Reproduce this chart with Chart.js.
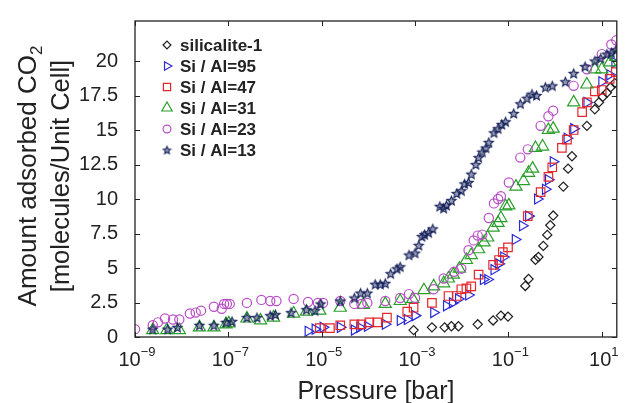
<!DOCTYPE html>
<html>
<head>
<meta charset="utf-8">
<script src="https://cdn.jsdelivr.net/npm/chart.js@4.4.1/dist/chart.umd.min.js"></script>
<style>
  html, body { margin: 0; padding: 0; background: #fff; }
</style>
</head>
<body>
<canvas id="isotermas" width="625" height="403"></canvas>
<script>
// CO2 isotherms, pressure in bar, loading in molecules per unit cell
const xTicks = [1e-9, 1e-7, 1e-5, 1e-3, 1e-1, 1e1];
const yTicks = [0, 2.5, 5, 7.5, 10, 12.5, 15, 17.5, 20];
const seriesNames = ['silicalite-1', 'Si / Al=95', 'Si / Al=47', 'Si / Al=31', 'Si / Al=23', 'Si / Al=13'];

const sil1P = [9.3e-4, 2.3e-3, 4.3e-3, 6.0e-3, 8.5e-3, 2.2e-2, 4.7e-2, 6.9e-2, 9.8e-2, 0.23, 0.27, 0.38, 0.44, 0.56, 0.68, 0.79, 0.91, 1.5, 1.9, 2.3, 4.8, 7.1, 8.7, 10.5, 12.9, 15.5, 19];
const sil1N = [0.5, 0.7, 0.7, 0.78, 0.78, 0.92, 1.2, 1.55, 1.48, 3.7, 4.2, 5.6, 5.8, 6.6, 7.4, 8.1, 8.8, 10.9, 12.2, 13.1, 15.3, 16.5, 17.0, 17.4, 17.7, 18.1, 18.4];

const si95P = [5.1e-6, 7.2e-6, 1.07e-5, 2.5e-5, 5.0e-5, 6.5e-5, 9.5e-5, 2.3e-4, 4.8e-4, 6.8e-4, 1.0e-3, 2.5e-3, 4.7e-3, 6.3e-3, 8.5e-3, 1.4e-2, 2.9e-2, 3.6e-2, 4.9e-2, 6.2e-2, 7.9e-2, 0.14, 0.20, 0.27, 0.42, 0.62, 0.72, 0.91, 1.8, 2.5, 4.8, 10, 14.8, 19];
const si95N = [0.42, 0.57, 0.7, 0.7, 0.5, 0.7, 0.78, 0.92, 1.2, 1.27, 1.55, 1.77, 2.26, 2.47, 2.76, 3.04, 4.17, 4.17, 4.88, 5.3, 5.8, 7.07, 8.06, 8.76, 10.0, 10.7, 11.4, 12.7, 14.4, 15.1, 17.0, 18.5, 19.0, 19.9];

const si47P = [9.1e-6, 1.5e-5, 2.5e-5, 5.0e-5, 7.1e-5, 1.05e-4, 1.55e-4, 2.5e-4, 6.8e-4, 9.3e-4, 2.3e-3, 5.2e-3, 7.8e-3, 9.8e-3, 1.26e-2, 1.6e-2, 2.3e-2, 4.7e-2, 6.3e-2, 7.6e-2, 9.8e-2, 0.26, 0.49, 0.72, 0.87, 1.4, 1.8, 2.5, 3.8, 4.8, 7.1, 10, 14.8, 20];
const si47N = [0.64, 0.64, 0.85, 0.92, 0.92, 1.06, 1.06, 1.41, 1.84, 2.12, 2.47, 2.97, 2.97, 3.46, 3.53, 3.67, 4.52, 5.23, 5.58, 6.15, 6.5, 8.76, 10.5, 11.6, 12.3, 13.7, 14.3, 15.0, 16.3, 17.0, 17.8, 17.9, 18.7, 19.2];

const si31P = [2.4e-9, 4.8e-9, 8.9e-9, 2.4e-8, 4.9e-8, 8.9e-8, 1.02e-7, 2.5e-7, 4.9e-7, 9.3e-7, 2.5e-6, 4.7e-6, 9.1e-6, 2.5e-5, 7.8e-5, 2.3e-4, 4.8e-4, 8.9e-4, 1.55e-3, 2.5e-3, 4.1e-3, 5.2e-3, 6.6e-3, 8.9e-3, 1.26e-2, 1.6e-2, 2.3e-2, 3.0e-2, 3.6e-2, 4.7e-2, 6.0e-2, 6.9e-2, 8.7e-2, 0.102, 0.145, 0.21, 0.27, 0.33, 0.38, 0.54, 0.72, 0.91, 2.5, 4.8, 7.1, 10, 14.8, 20];
const si31N = [0.5, 0.5, 0.5, 0.7, 0.7, 0.92, 0.99, 1.34, 1.2, 1.41, 1.70, 1.84, 1.91, 2.12, 2.33, 2.40, 2.61, 2.76, 3.39, 3.67, 3.89, 4.24, 4.52, 4.95, 5.58, 5.94, 6.36, 6.86, 7.21, 7.92, 8.27, 8.62, 9.47, 9.54, 10.9, 11.3, 11.9, 12.2, 13.7, 13.8, 15.0, 15.1, 17.0, 18.3, 19.4, 19.4, 19.9, 20.3];

const si23P = [1.0e-9, 2.4e-9, 3.1e-9, 4.4e-9, 6.5e-9, 8.9e-9, 1.5e-8, 2.0e-8, 2.6e-8, 4.9e-8, 7.2e-8, 8.1e-8, 9.3e-8, 1.07e-7, 2.5e-7, 5.1e-7, 7.9e-7, 1.07e-6, 2.5e-6, 5.1e-6, 8.3e-6, 1.07e-5, 2.5e-5, 5.0e-5, 7.1e-5, 9.5e-5, 2.3e-4, 4.8e-4, 7.4e-4, 1.0e-3, 2.5e-3, 4.1e-3, 6.9e-3, 9.8e-3, 1.4e-2, 1.8e-2, 2.2e-2, 2.75e-2, 3.8e-2, 4.9e-2, 6.0e-2, 6.9e-2, 0.102, 0.18, 0.26, 0.49, 0.72, 0.91, 2.5, 4.8, 10, 16, 20.5];
const si23N = [0.57, 0.85, 1.06, 1.34, 1.27, 1.27, 1.70, 1.77, 1.91, 2.19, 2.05, 2.40, 2.40, 2.40, 2.47, 2.69, 2.61, 2.61, 2.76, 2.54, 2.47, 2.47, 2.61, 2.40, 2.40, 2.47, 2.61, 2.83, 3.11, 2.83, 3.46, 4.24, 4.73, 4.95, 6.29, 7.0, 7.35, 7.42, 8.62, 9.68, 10.0, 10.2, 11.2, 13.0, 13.6, 15.3, 16.0, 16.4, 18.2, 19.4, 20.5, 21.2, 21.5];

const si13P = [2.4e-9, 5.0e-9, 8.1e-9, 2.4e-8, 4.9e-8, 8.9e-8, 1.2e-7, 2.5e-7, 4.1e-7, 7.9e-7, 1.02e-6, 2.2e-6, 4.7e-6, 7.2e-6, 9.5e-6, 2.5e-5, 5.0e-5, 6.8e-5, 9.5e-5, 1.4e-4, 1.8e-4, 2.3e-4, 3.0e-4, 4.1e-4, 4.8e-4, 7.4e-4, 1.0e-3, 1.2e-3, 1.4e-3, 1.6e-3, 1.95e-3, 2.4e-3, 3.4e-3, 4.1e-3, 4.7e-3, 6.0e-3, 7.8e-3, 9.8e-3, 1.15e-2, 1.4e-2, 1.6e-2, 2.0e-2, 2.3e-2, 2.75e-2, 3.3e-2, 3.8e-2, 4.9e-2, 6.0e-2, 7.2e-2, 8.7e-2, 0.13, 0.18, 0.25, 0.32, 0.40, 0.62, 0.87, 1.66, 2.5, 4.4, 7.1, 9.5, 12.9, 16, 20.5];
const si13N = [0.57, 0.57, 0.7, 0.85, 0.85, 1.06, 1.13, 1.41, 1.41, 1.55, 1.63, 1.77, 1.98, 1.91, 2.40, 2.61, 2.83, 3.18, 3.18, 3.82, 3.82, 3.89, 4.59, 4.95, 5.09, 5.94, 6.08, 6.64, 7.28, 7.42, 7.56, 7.84, 9.47, 9.33, 9.54, 9.89, 10.4, 10.6, 11.1, 11.2, 11.8, 12.5, 13.0, 13.4, 13.7, 14.1, 14.8, 15.1, 15.4, 15.6, 16.2, 16.9, 17.3, 17.6, 17.5, 18.1, 18.2, 18.5, 19.1, 19.6, 20.0, 20.2, 20.5, 20.6, 20.8];

const FONTE = "'Liberation Sans', Arial, Helvetica, sans-serif";
const TINTA = '#222';

// pentagrama (o Chart.js so tem a estrela de linhas cruzadas)
function estrela(cor, rExt) {
  const lado = Math.ceil(rExt * 2 + 3);
  const c = document.createElement('canvas');
  c.width = lado; c.height = lado;
  const g = c.getContext('2d');
  g.beginPath();
  for (let k = 0; k < 10; k++) {
    const r = k % 2 === 0 ? rExt : rExt * 0.45;
    const a = -Math.PI / 2 + k * Math.PI / 5;
    const px = lado / 2 + r * Math.cos(a), py = lado / 2 + 0.4 + r * Math.sin(a);
    if (k === 0) g.moveTo(px, py); else g.lineTo(px, py);
  }
  g.closePath();
  g.fillStyle = 'rgba(22,34,92,0.45)';
  g.fill();
  g.lineWidth = 1.1;
  g.strokeStyle = cor;
  g.stroke();
  return c;
}

function pontos(p, n) {
  return p.map((v, i) => ({ x: v, y: n[i] }));
}

const estilos = [
  { cor: '#1e1e1e', forma: 'rectRot', raio: 4.6, rot: 0 },
  { cor: '#2b2bd6', forma: 'triangle', raio: 5.8, rot: 90 },
  { cor: '#e5262a', forma: 'rect', raio: 6.0, rot: 0 },
  { cor: '#2a9e2a', forma: 'triangle', raio: 7.0, rot: 0 },
  { cor: '#b84cc6', forma: 'circle', raio: 4.6, rot: 0 },
  { cor: '#16225a', forma: estrela('#16225a', 4.8), raio: 5, rot: 0 }
];
const estrelaLegenda = estrela('#16225a', 4.0);

const valores = [
  pontos(sil1P, sil1N), pontos(si95P, si95N), pontos(si47P, si47N),
  pontos(si31P, si31N), pontos(si23P, si23N), pontos(si13P, si13N)
];

const datasets = seriesNames.map((nome, i) => ({
  label: nome,
  data: valores[i],
  order: seriesNames.length - 1 - i,
  pointStyle: estilos[i].forma,
  pointRadius: estilos[i].raio,
  pointRotation: estilos[i].rot,
  pointBorderWidth: 1.2,
  pointBorderColor: estilos[i].cor,
  pointBackgroundColor: 'rgba(0,0,0,0)',
  showLine: false
}));

const moldura = {
  id: 'moldura',
  afterDraw(chart) {
    const { ctx, chartArea: a, scales } = chart;
    ctx.save();
    ctx.strokeStyle = TINTA;
    ctx.lineWidth = 1.3;
    ctx.strokeRect(a.left, a.top, a.right - a.left, a.bottom - a.top);

    // marcas para dentro nos quatro lados
    ctx.lineWidth = 1;
    ctx.beginPath();
    scales.x.ticks.forEach(t => {
      const px = Math.round(scales.x.getPixelForValue(t.value)) + 0.5;
      ctx.moveTo(px, a.bottom); ctx.lineTo(px, a.bottom - 5);
      ctx.moveTo(px, a.top); ctx.lineTo(px, a.top + 5);
    });
    scales.y.ticks.forEach(t => {
      const py = Math.round(scales.y.getPixelForValue(t.value)) + 0.5;
      ctx.moveTo(a.left, py); ctx.lineTo(a.left + 5, py);
      ctx.moveTo(a.right, py); ctx.lineTo(a.right - 5, py);
    });
    ctx.stroke();

    // rotulos 10^n do eixo x
    ctx.fillStyle = TINTA;
    ctx.textBaseline = 'alphabetic';
    ctx.textAlign = 'left';
    scales.x.ticks.forEach(t => {
      const px = scales.x.getPixelForValue(t.value);
      const exp = String(Math.round(Math.log10(t.value))).replace('-', '\u2212');
      ctx.font = '20px ' + FONTE;
      const wb = ctx.measureText('10').width;
      ctx.font = '13px ' + FONTE;
      const we = ctx.measureText(exp).width;
      const x0 = px - (wb + we) / 2 + 2;
      ctx.font = '20px ' + FONTE;
      ctx.fillText('10', x0, 366);
      ctx.font = '13px ' + FONTE;
      ctx.fillText(exp, x0 + wb, 356);
    });

    // titulo do eixo y em duas linhas, com CO2 subscrito
    ctx.save();
    ctx.translate(36, 176);
    ctx.rotate(-Math.PI / 2);
    ctx.font = '26px ' + FONTE;
    const l1 = 'Amount adsorbed CO';
    const w1 = ctx.measureText(l1).width;
    ctx.font = '17px ' + FONTE;
    const ws = ctx.measureText('2').width;
    const s1 = -(w1 + ws) / 2;
    ctx.font = '26px ' + FONTE;
    ctx.fillText(l1, s1, 0);
    ctx.font = '17px ' + FONTE;
    ctx.fillText('2', s1 + w1, 6);
    ctx.font = '25.5px ' + FONTE;
    ctx.textAlign = 'center';
    ctx.fillText('[molecules/Unit Cell]', 0, 33);
    ctx.restore();

    // legenda dentro da area do grafico
    ctx.font = 'bold 17px ' + FONTE;
    ctx.textBaseline = 'middle';
    ctx.textAlign = 'left';
    seriesNames.forEach((nome, i) => {
      const y = 45 + i * 21;
      const e = estilos[i];
      const forma = i === 5 ? estrelaLegenda : e.forma;
      ctx.strokeStyle = e.cor;
      ctx.fillStyle = 'rgba(0,0,0,0)';
      ctx.lineWidth = 1.2;
      Chart.helpers.drawPoint(ctx, { pointStyle: forma, rotation: e.rot, radius: e.raio * 0.85, borderWidth: 1.2 }, 167, y);
      ctx.fillStyle = TINTA;
      ctx.fillText(nome, 180, y + 1);
    });
    ctx.restore();
  }
};

new Chart(document.getElementById('isotermas'), {
  type: 'scatter',
  data: { datasets: datasets },
  options: {
    responsive: false,
    animation: false,
    devicePixelRatio: 1,
    layout: { padding: { top: 13, right: 3, left: 0, bottom: 0 } },
    plugins: { legend: { display: false }, tooltip: { enabled: false } },
    scales: {
      x: {
        type: 'logarithmic',
        min: 1e-9,
        max: 21,
        grid: { display: false },
        border: { display: false },
        ticks: { display: false },
        afterBuildTicks: s => { s.ticks = xTicks.map(v => ({ value: v })); },
        afterFit: s => { s.height = 66; },
        title: {
          display: true,
          text: 'Pressure [bar]',
          color: TINTA,
          font: { family: FONTE, size: 25, lineHeight: 1 },
          padding: { top: 0, bottom: -2 }
        }
      },
      y: {
        min: 0,
        max: 22.9,
        grid: { display: false },
        border: { display: false },
        afterBuildTicks: s => { s.ticks = yTicks.map(v => ({ value: v })); },
        afterFit: s => { s.width = 135; },
        ticks: {
          color: TINTA,
          padding: 9,
          font: { family: FONTE, size: 20 },
          callback: v => String(v)
        }
      }
    }
  },
  plugins: [moldura]
});
</script>
</body>
</html>
